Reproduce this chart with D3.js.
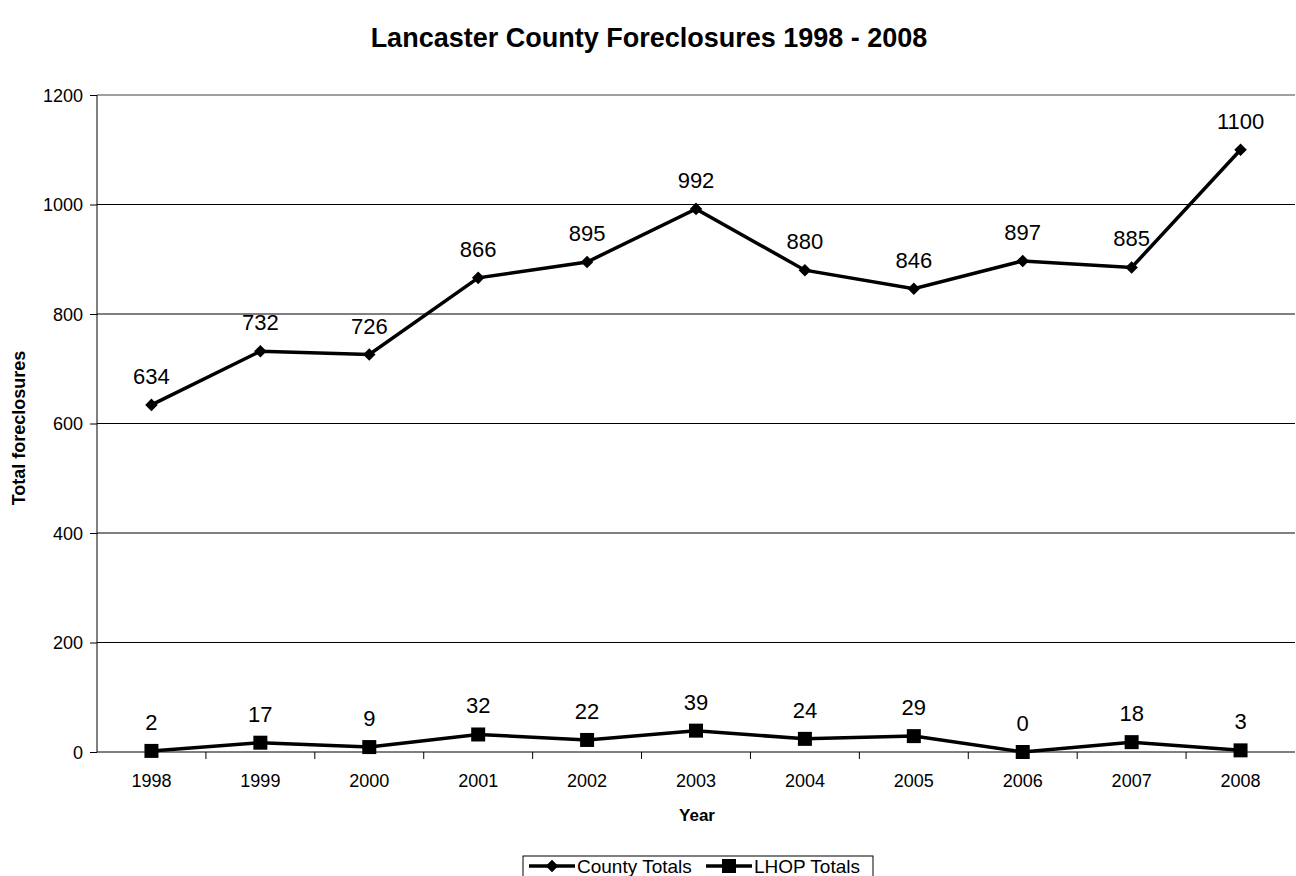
<!DOCTYPE html>
<html>
<head>
<meta charset="utf-8">
<script src="https://cdn.jsdelivr.net/npm/d3@7"></script>
<style>
  body { margin: 0; background: #fff; }
  svg { display: block; }
  svg text { font-family: "Liberation Sans", Arial, sans-serif; fill: #000; }
</style>
</head>
<body>
<svg id="chart" width="1296" height="876"></svg>
<script>
var years = ["1998", "1999", "2000", "2001", "2002", "2003", "2004", "2005", "2006", "2007", "2008"];
var countyTotals = [634, 732, 726, 866, 895, 992, 880, 846, 897, 885, 1100];
var lhopTotals = [2, 17, 9, 32, 22, 39, 24, 29, 0, 18, 3];
var yTicks = [0, 200, 400, 600, 800, 1000, 1200];

var svg = d3.select("#chart");
var margin = { top: 95, right: 1, bottom: 124, left: 97 },
    width = 1296 - margin.left - margin.right,
    height = 876 - margin.top - margin.bottom;

var x = d3.scaleBand().domain(years).range([0, width]);
var y = d3.scaleLinear().domain([0, 1200]).range([height, 0]);
var cx = function (d, i) { return x(years[i]) + x.bandwidth() / 2; };

//  Title ---
svg.append("text")
    .attr("x", 649).attr("y", 47)
    .attr("text-anchor", "middle")
    .style("font-size", "27px").style("font-weight", "bold")
    .text("Lancaster County Foreclosures 1998 - 2008");

var g = svg.append("g")
    .attr("transform", "translate(" + margin.left + "," + margin.top + ")");

//  Gridlines ---
g.selectAll(".grid").data(yTicks.filter(function (t) { return t > 0; }))
  .enter().append("line")
    .attr("x1", 0).attr("x2", width)
    .attr("y1", function (d) { return y(d); }).attr("y2", function (d) { return y(d); })
    .attr("stroke", function (d) { return d === 1200 ? "#808080" : "#000"; })
    .attr("stroke-width", function (d) { return d === 1200 ? 1.5 : 1; });

//  Axes ---
var yAxis = d3.axisLeft(y).tickValues(yTicks).tickFormat(d3.format("d")).tickSize(7).tickPadding(7);
var yg = g.append("g").call(yAxis).attr("font-family", null);
yg.select(".domain").remove();
yg.append("line").attr("x1", 0).attr("x2", 0).attr("y1", 0).attr("y2", height).attr("stroke", "#000");
yg.selectAll("text").style("font-size", "18px").attr("dy", "0.34em");

var xAxis = d3.axisBottom(x).tickSize(0).tickPadding(22);
var xg = g.append("g").attr("transform", "translate(0," + height + ")").call(xAxis).attr("font-family", null);
xg.select(".domain").remove();
xg.append("line").attr("x1", 0).attr("x2", width).attr("stroke", "#000");
xg.selectAll("text").style("font-size", "18px");
xg.selectAll(".sep").data(years.slice(1))
  .enter().append("line")
    .attr("x1", function (d) { return x(d); }).attr("x2", function (d) { return x(d); })
    .attr("y1", 0).attr("y2", 7).attr("stroke", "#000");

//  Axis titles ---
svg.append("text")
    .attr("x", 697).attr("y", 821)
    .attr("text-anchor", "middle")
    .style("font-size", "17px").style("font-weight", "bold")
    .text("Year");
svg.append("text")
    .attr("transform", "translate(25,428) rotate(-90)")
    .attr("text-anchor", "middle")
    .style("font-size", "18px").style("font-weight", "bold")
    .text("Total foreclosures");

//  Series ---
var line = d3.line().x(cx).y(function (d) { return y(d); });
var diamond = d3.symbol().type(d3.symbolDiamond2).size(100);
var square = d3.symbol().type(d3.symbolSquare).size(196);

function drawSeries(values, sym) {
    g.append("path").datum(values)
        .attr("d", line).attr("fill", "none")
        .attr("stroke", "#000").attr("stroke-width", 3.5);
    g.selectAll(null).data(values).enter().append("path")
        .attr("d", sym)
        .attr("transform", function (d, i) { return "translate(" + cx(d, i) + "," + y(d) + ")"; })
        .attr("fill", "#000");
    g.selectAll(null).data(values).enter().append("text")
        .attr("x", cx).attr("y", function (d) { return y(d) - 21; })
        .attr("text-anchor", "middle")
        .style("font-size", "22px")
        .text(function (d) { return d; });
}
drawSeries(countyTotals, diamond);
drawSeries(lhopTotals, square);

//  Legend ---
var legend = svg.append("g").attr("transform", "translate(523,856)");
legend.append("rect").attr("width", 350).attr("height", 28)
    .attr("fill", "#fff").attr("stroke", "#000");
var items = [{ name: "County Totals", sym: diamond, x: 6 }, { name: "LHOP Totals", sym: square, x: 183 }];
items.forEach(function (it) {
    var li = legend.append("g").attr("transform", "translate(" + it.x + ",10)");
    li.append("line").attr("x1", 0).attr("x2", 46).attr("stroke", "#000").attr("stroke-width", 3.5);
    li.append("path").attr("d", it.sym).attr("transform", "translate(23,0)");
    li.append("text").attr("x", 48).attr("y", 7).style("font-size", "19px").text(it.name);
});
</script>
</body>
</html>
